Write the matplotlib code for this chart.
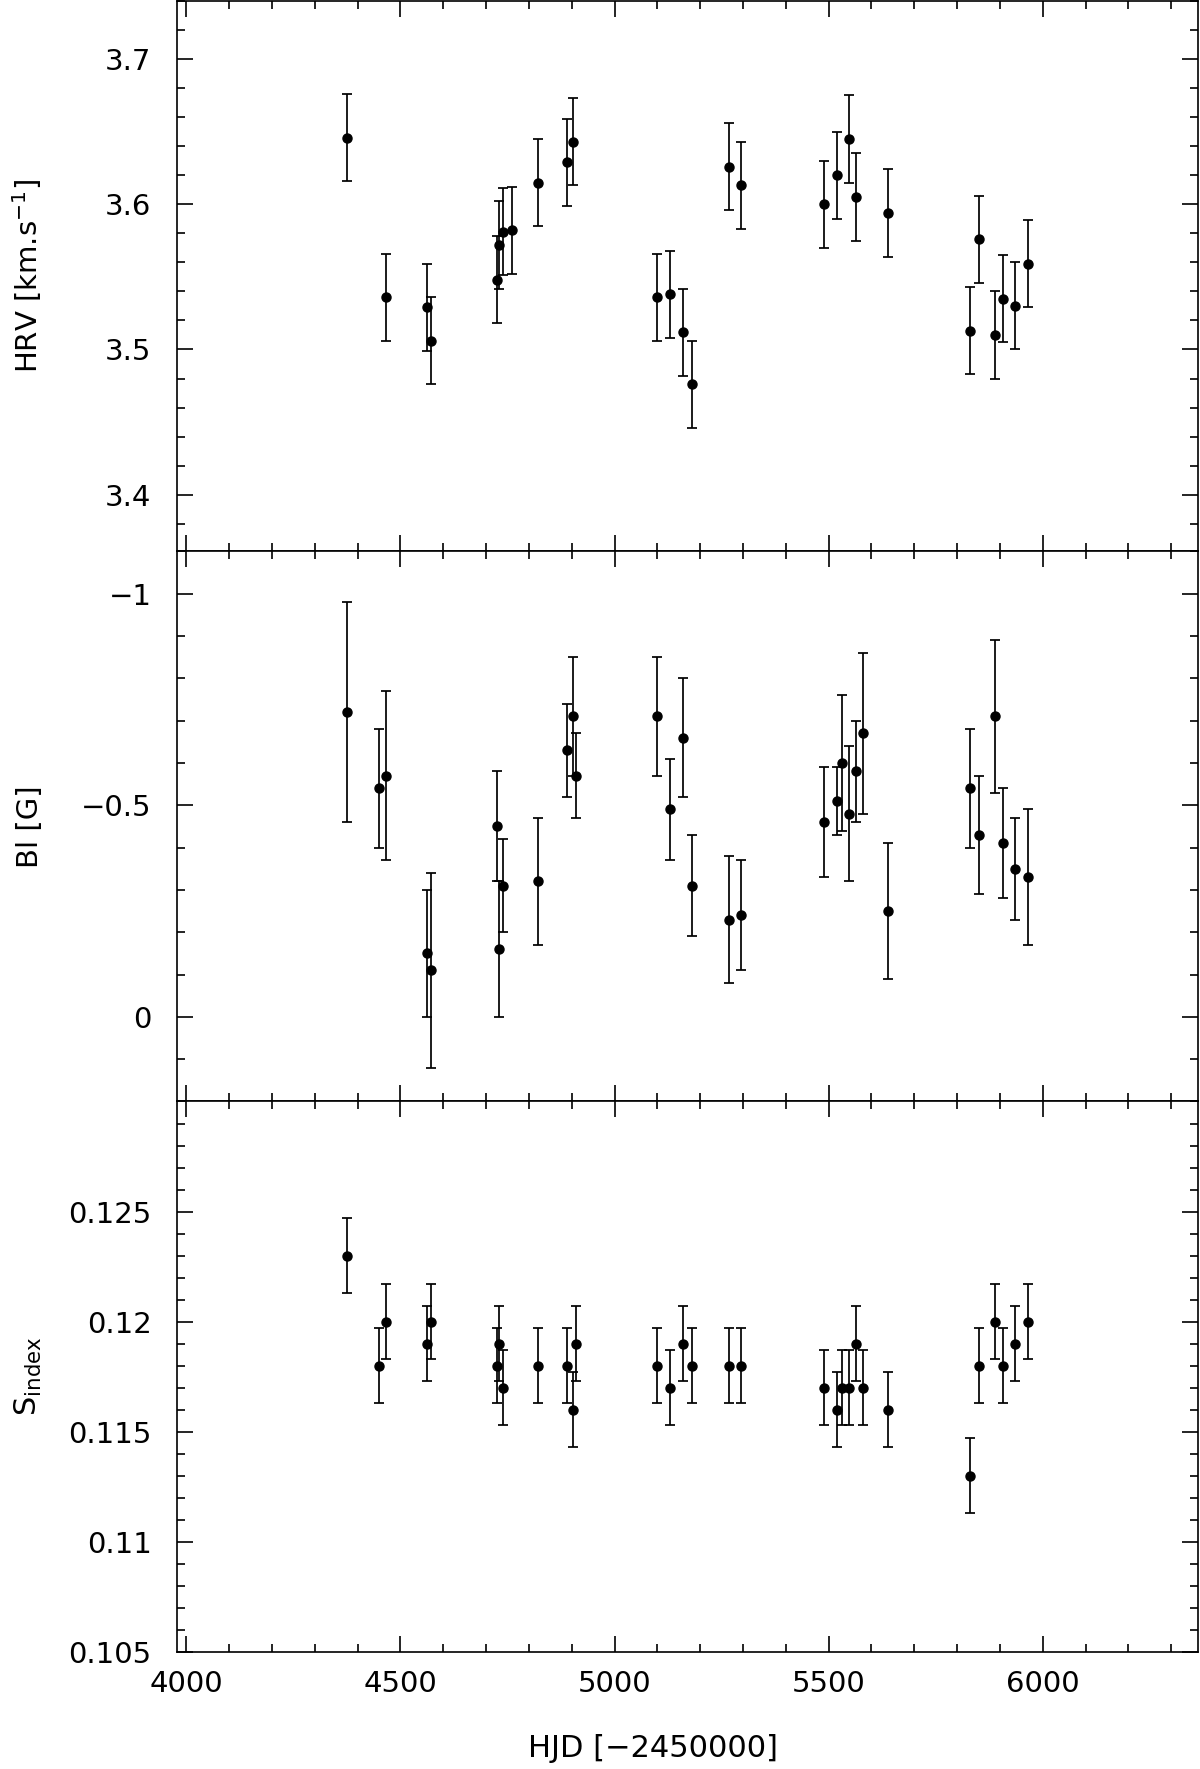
import numpy as np
import matplotlib.pyplot as plt
from matplotlib.ticker import MultipleLocator, FuncFormatter

plt.rcParams['font.family'] = ['DejaVu Sans']
plt.rcParams['mathtext.fontset'] = 'dejavusans'

# Radialgeschwindigkeit (HRV)
hjd_hrv = [4376, 4467, 4562, 4572, 4726, 4730, 4740, 4760, 4822, 4888, 4903,
           5098, 5130, 5160, 5181, 5268, 5296, 5488, 5519, 5548, 5565, 5638,
           5829, 5851, 5889, 5906, 5934, 5966]
hrv = [3.646, 3.536, 3.529, 3.506, 3.548, 3.572, 3.581, 3.582, 3.615, 3.629, 3.643,
       3.536, 3.538, 3.512, 3.476, 3.626, 3.613, 3.600, 3.620, 3.645, 3.605, 3.594,
       3.513, 3.576, 3.510, 3.535, 3.530, 3.559]
hrv_err = [0.03, 0.03, 0.03, 0.03, 0.03, 0.03, 0.03, 0.03, 0.03, 0.03, 0.03,
           0.03, 0.03, 0.03, 0.03, 0.03, 0.03, 0.03, 0.03, 0.03, 0.03, 0.03,
           0.03, 0.03, 0.03, 0.03, 0.03, 0.03]

# Longitudinales Feld und S-Index
hjd_act = [4376, 4451, 4467, 4562, 4572, 4726, 4730, 4740, 4822, 4888, 4903, 4909,
           5098, 5130, 5160, 5181, 5268, 5296, 5488, 5519, 5530, 5548, 5565, 5580,
           5638, 5829, 5851, 5889, 5906, 5934, 5966]
bl = [-0.72, -0.54, -0.57, -0.15, -0.11, -0.45, -0.16, -0.31, -0.32, -0.63, -0.71, -0.57,
      -0.71, -0.49, -0.66, -0.31, -0.23, -0.24, -0.46, -0.51, -0.60, -0.48, -0.58, -0.67,
      -0.25, -0.54, -0.43, -0.71, -0.41, -0.35, -0.33]
bl_err = [0.26, 0.14, 0.20, 0.15, 0.23, 0.13, 0.16, 0.11, 0.15, 0.11, 0.14, 0.10,
          0.14, 0.12, 0.14, 0.12, 0.15, 0.13, 0.13, 0.08, 0.16, 0.16, 0.12, 0.19,
          0.16, 0.14, 0.14, 0.18, 0.13, 0.12, 0.16]
sindex = [0.123, 0.118, 0.120, 0.119, 0.120, 0.118, 0.119, 0.117, 0.118, 0.118, 0.116, 0.119,
          0.118, 0.117, 0.119, 0.118, 0.118, 0.118, 0.117, 0.116, 0.117, 0.117, 0.119, 0.117,
          0.116, 0.113, 0.118, 0.120, 0.118, 0.119, 0.120]
sindex_err = [0.0017, 0.0017, 0.0017, 0.0017, 0.0017, 0.0017, 0.0017, 0.0017, 0.0017,
              0.0017, 0.0017, 0.0017, 0.0017, 0.0017, 0.0017, 0.0017, 0.0017, 0.0017,
              0.0017, 0.0017, 0.0017, 0.0017, 0.0017, 0.0017, 0.0017, 0.0017, 0.0017,
              0.0017, 0.0017, 0.0017, 0.0017]
sindex_ticks = [0.105, 0.11, 0.115, 0.12, 0.125]


def fmt(v, pos):
    s = '%g' % (round(v, 6) + 0.0)
    return s.replace('-', '\u2212')


fig, axes = plt.subplots(3, 1, sharex=True, figsize=(12, 17.69), dpi=100)
fig.subplots_adjust(left=0.1471, right=0.9985, bottom=0.0663, top=0.9994, hspace=0)
ax1, ax2, ax3 = axes

stil = dict(fmt='o', color='k', ms=6.5, elinewidth=1.25, capsize=3.3, capthick=1.25)
ax1.errorbar(hjd_hrv, hrv, yerr=hrv_err, **stil)
ax2.errorbar(hjd_act, bl, yerr=bl_err, **stil)
ax3.errorbar(hjd_act, sindex, yerr=sindex_err, **stil)

ax1.set_ylim(3.361, 3.740)
ax1.yaxis.set_major_locator(MultipleLocator(0.1))
ax1.yaxis.set_minor_locator(MultipleLocator(0.02))

ax2.set_ylim(0.2, -1.1)
ax2.yaxis.set_major_locator(MultipleLocator(0.5))
ax2.yaxis.set_minor_locator(MultipleLocator(0.1))

ax3.set_ylim(0.105, 0.130)
ax3.set_yticks(sindex_ticks)
ax3.yaxis.set_minor_locator(MultipleLocator(0.001))

ax3.set_xlim(3977, 6363)
ax3.xaxis.set_major_locator(MultipleLocator(500))
ax3.xaxis.set_minor_locator(MultipleLocator(100))

for ax in axes:
    for sp in ax.spines.values():
        sp.set_linewidth(1.2)
    ax.tick_params(which='both', direction='in', top=True, right=True, width=1.2,
                   labelsize=21)
    ax.tick_params(which='major', length=11.5)
    ax.tick_params(which='minor', length=6)
    ax.tick_params(axis='y', pad=18)
    ax.tick_params(axis='x', pad=13)
    ax.yaxis.set_major_formatter(FuncFormatter(fmt))

ax1.set_ylabel('HRV [km.s$^{-1}$]', fontsize=21)
ax2.set_ylabel('Bl [G]', fontsize=21)
ax3.set_ylabel('S$_{\\rm index}$', fontsize=22)
for ax in axes:
    ax.yaxis.set_label_coords(-0.13, 0.5)

ax3.set_xlabel('HJD [\u22122450000]', fontsize=22, x=0.466, labelpad=26)

fig.savefig('out.png', dpi=100)
